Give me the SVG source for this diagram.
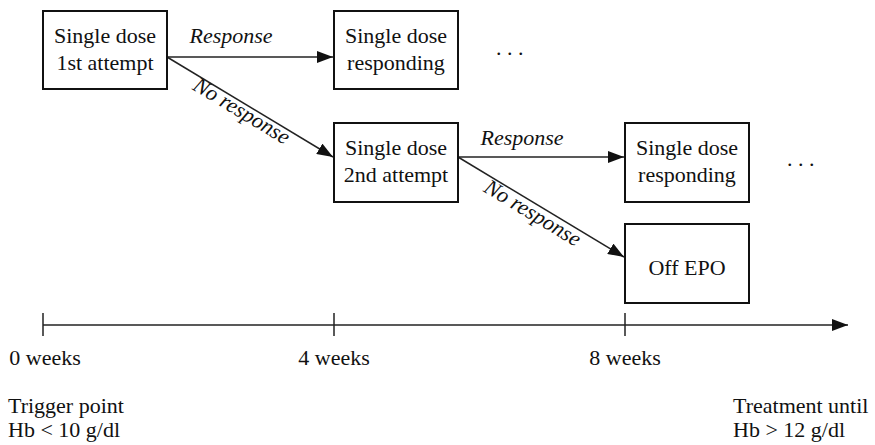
<svg xmlns="http://www.w3.org/2000/svg" width="875" height="445" viewBox="0 0 875 445" font-family="'Liberation Serif', 'Times New Roman', Times, 'DejaVu Serif', serif">
<style>
text{font-family:'Liberation Serif', Times, 'DejaVu Serif', serif;font-size:22px;fill:#111}
.c{text-anchor:middle}
.i{font-style:italic}
.box{fill:#fff;stroke:#111;stroke-width:2}
.ln{stroke:#222;stroke-width:1.5;fill:none}
</style>
<defs>
<marker id="ah" markerWidth="16" markerHeight="12" refX="16" refY="6" orient="auto" markerUnits="userSpaceOnUse">
<path d="M0,0 L16,6 L0,12 Z" fill="#111"/>
</marker>
</defs>
<g id="connectors">
<line class="ln" x1="167" y1="57" x2="333" y2="57" marker-end="url(#ah)"/>
<line class="ln" x1="167" y1="57" x2="333" y2="157" marker-end="url(#ah)"/>
<line class="ln" x1="458" y1="157" x2="624" y2="157" marker-end="url(#ah)"/>
<line class="ln" x1="458" y1="157" x2="624" y2="257" marker-end="url(#ah)"/>
<text class="c i" x="231" y="43">Response</text>
<text class="c i" x="238" y="117" transform="rotate(31 238 117)">No response</text>
<text class="c i" x="522" y="145">Response</text>
<text class="c i" x="529" y="219" transform="rotate(31 529 219)">No response</text>
</g>
<g id="n1"><rect class="box" x="43" y="11" width="124" height="78"/><text class="c" x="105" y="43">Single dose</text><text class="c" x="105" y="70">1st attempt</text></g>
<g id="n2"><rect class="box" x="334" y="11" width="124" height="78"/><text class="c" x="396" y="43">Single dose</text><text class="c" x="396" y="70">responding</text></g>
<g id="n3"><rect class="box" x="334" y="123" width="124" height="79"/><text class="c" x="396" y="155">Single dose</text><text class="c" x="396" y="182">2nd attempt</text></g>
<g id="n4"><rect class="box" x="625" y="123" width="124" height="79"/><text class="c" x="687" y="155">Single dose</text><text class="c" x="687" y="182">responding</text></g>
<g id="n5"><rect class="box" x="625" y="224" width="124" height="79"/><text class="c" x="687" y="275">Off EPO</text></g>
<g id="dots1"><text x="496" y="55">. . .</text></g>
<g id="dots2"><text x="787" y="166">. . .</text></g>
<g id="timeline">
<line class="ln" x1="43" y1="325" x2="848" y2="325" marker-end="url(#ah)"/>
<line class="ln" x1="43" y1="313" x2="43" y2="336"/>
<line class="ln" x1="334" y1="313" x2="334" y2="336"/>
<line class="ln" x1="625" y1="313" x2="625" y2="336"/>
<text class="c" x="45" y="365">0 weeks</text>
<text class="c" x="334" y="365">4 weeks</text>
<text class="c" x="625" y="365">8 weeks</text>
<text x="8" y="413">Trigger point</text>
<text x="8" y="437">Hb &lt; 10 g/dl</text>
<text x="733" y="413">Treatment until</text>
<text x="733" y="437">Hb &gt; 12 g/dl</text>
</g>
</svg>
